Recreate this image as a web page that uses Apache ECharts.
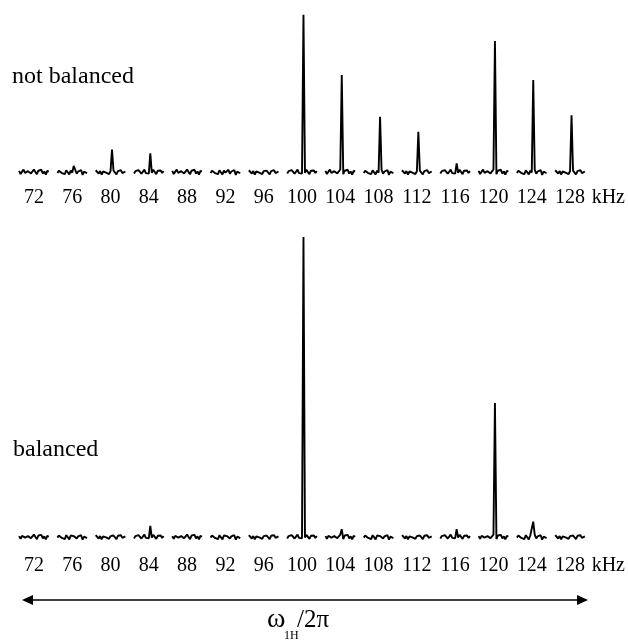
<!DOCTYPE html>
<html>
<head>
    <meta charset="utf-8">
    <title>not balanced / balanced</title>
    <script src="https://cdn.jsdelivr.net/npm/echarts@6.0.0/dist/echarts.min.js"></script>
    <style>
        body { margin: 0; background: #fff; }
        #chart1 { width: 628px; height: 643px; }
    </style>
</head>
<body>
<div id="chart1"></div>

<script>
    // 各段的中心频率 (kHz)
    var freqs = [72, 76, 80, 84, 88, 92, 96, 100, 104, 108, 112, 116, 120, 124, 128];
    // 刻度标签
    var tickValues = [72, 76, 80, 84, 88, 92, 96, 100, 104, 108, 112, 116, 120, 124, 128, 132];
    var tickText = ['72', '76', '80', '84', '88', '92', '96', '100', '104', '108', '112', '116', '120', '124', '128', 'kHz'];

    // 峰高 (100 kHz 处的峰 = 100)
    var peaksNotBalanced = [0, 4, 14.4, 11.9, 0, 0, 0, 100, 61.7, 35.2, 25.6, 5.5, 83.3, 58.5, 36.2];
    var peaksBalanced = [0, 0, 0, 3.7, 0, 0, 0, 100, 2.6, 0, 0, 2.6, 44.7, 5.1, 0];

    // 每段基线噪声 (21 点)
    var noiseTop = [
        [0.8, -1.2, 0.3, 1.6, -0.5, -1.7, 0.6, 1.3, -0.8, 0.4, 1.7, 0, -1.3, 0.9, -0.3, 1.5, -0.9, 0.4, -1.6, 0.8, 0.3],
        [-0.5, 0.9, 1.9, -0.6, 0.3, -1.3, 1.2, 0.2, -1.5, 1.0, -0.3, 0.6, 1.5, -1.0, 0.4, -0.6, 1.3, -1.8, 0.3, 0.9, -0.7],
        [1.2, 0.2, -0.9, 0.7, -1.6, 0.4, 1.5, -0.3, 0.9, -1.2, 0.6, -0.4, 1.0, 0.3, -1.5, 0.7, 0.2, 1.3, -0.6, -1.2, 0.4],
        [-0.9, 0.6, -0.2, 1.3, 0.4, -1.0, -0.3, 1.6, -0.6, 0.3, -0.9, 1.2, -0.4, 1.5, 0.6, -1.3, 0.9, -0.2, 1.0, -0.5, 0.6]
    ];
    var noiseBottom = [
        [0.3, -0.6, 0.4, 0.8, -0.2, -0.8, 0.3, 0.7, -0.4, 0.2, 0.8, 0, -0.7, 0.5, -0.1, 0.7, -0.5, 0.2, -0.8, 0.4, 0.1],
        [-0.2, 0.5, 0.9, -0.3, 0.1, -0.7, 0.6, 0.1, -0.8, 0.5, -0.1, 0.3, 0.8, -0.5, 0.2, -0.3, 0.6, -0.9, 0.1, 0.5, -0.4],
        [0.6, 0.1, -0.5, 0.3, -0.8, 0.2, 0.7, -0.1, 0.5, -0.6, 0.3, -0.2, 0.5, 0.1, -0.7, 0.4, 0.1, 0.6, -0.3, -0.6, 0.2],
        [-0.5, 0.3, -0.1, 0.6, 0.2, -0.5, -0.2, 0.8, -0.3, 0.1, -0.4, 0.6, -0.2, 0.7, 0.3, -0.6, 0.4, -0.1, 0.5, -0.3, 0.3]
    ];

    var halfWidth = 1.55;   // 每段半宽 (kHz)
    var peakIndex = 11;     // 峰在段内的位置

    // 把各段拼成一条带断点的折线
    function buildTrace(peaks, noise) {
        var data = [];
        for (var k = 0; k < freqs.length; k++) {
            var pattern = noise[k % noise.length];
            var step = 2 * halfWidth / (pattern.length - 1);
            for (var i = 0; i < pattern.length; i++) {
                var y = pattern[i];
                if (i == peakIndex && peaks[k] > 0) {
                    y = peaks[k];
                }
                data.push([freqs[k] - halfWidth + i * step, y]);
            }
            data.push([freqs[k] + halfWidth + 0.1, null]);
        }
        return data;
    }

    var serif = '"Liberation Serif", "Times New Roman", serif';

    function makeXAxis(gridIndex, margin) {
        return {
            type: 'value',
            gridIndex: gridIndex,
            min: 69.5,
            max: 133,
            axisLine: { show: false, onZero: false },
            axisTick: { show: false },
            splitLine: { show: false },
            axisLabel: {
                customValues: tickValues,
                margin: margin,
                color: '#000',
                fontFamily: serif,
                fontSize: 20,
                formatter: function (v) {
                    return tickText[tickValues.indexOf(v)];
                }
            }
        };
    }

    function makeYAxis(gridIndex) {
        return {
            type: 'value',
            gridIndex: gridIndex,
            min: -5,
            max: 105,
            show: false
        };
    }

    var myChart = echarts.init(document.getElementById('chart1'));

    var option = {
        animation: false,
        backgroundColor: '#fff',
        grid: [
            { left: 10, right: 7, top: 7, height: 173 },
            { left: 10, right: 7, top: 222, height: 330 }
        ],
        xAxis: [makeXAxis(0, 8), makeXAxis(1, 4)],
        yAxis: [makeYAxis(0), makeYAxis(1)],
        series: [
            {
                type: 'line',
                xAxisIndex: 0,
                yAxisIndex: 0,
                data: buildTrace(peaksNotBalanced, noiseTop),
                showSymbol: false,
                connectNulls: false,
                lineStyle: { color: '#000', width: 1.9 }
            },
            {
                type: 'line',
                xAxisIndex: 1,
                yAxisIndex: 1,
                data: buildTrace(peaksBalanced, noiseBottom),
                showSymbol: false,
                connectNulls: false,
                lineStyle: { color: '#000', width: 1.9 }
            }
        ],
        graphic: [
            {
                type: 'text', left: 12, top: 65,
                style: { text: 'not balanced', font: '24px ' + serif, fill: '#000' }
            },
            {
                type: 'text', left: 13, top: 438,
                style: { text: 'balanced', font: '24px ' + serif, fill: '#000' }
            },
            // 双向箭头
            {
                type: 'line',
                shape: { x1: 30, y1: 600, x2: 580, y2: 600 },
                style: { stroke: '#000', lineWidth: 1.5 }
            },
            {
                type: 'polygon',
                shape: { points: [[22, 600], [33, 595], [33, 605]] },
                style: { fill: '#000' }
            },
            {
                type: 'polygon',
                shape: { points: [[588, 600], [577, 595], [577, 605]] },
                style: { fill: '#000' }
            },
            // ω_1H / 2π
            {
                type: 'text', x: 267, y: 606,
                style: { text: 'ω', font: '28px ' + serif, fill: '#000' }
            },
            {
                type: 'text', x: 284, y: 630,
                style: { text: '1H', font: '12px ' + serif, fill: '#000' }
            },
            {
                type: 'text', x: 297, y: 608,
                style: { text: '/2π', font: '25px ' + serif, fill: '#000' }
            }
        ]
    };

    myChart.setOption(option);
</script>
</body>
</html>
